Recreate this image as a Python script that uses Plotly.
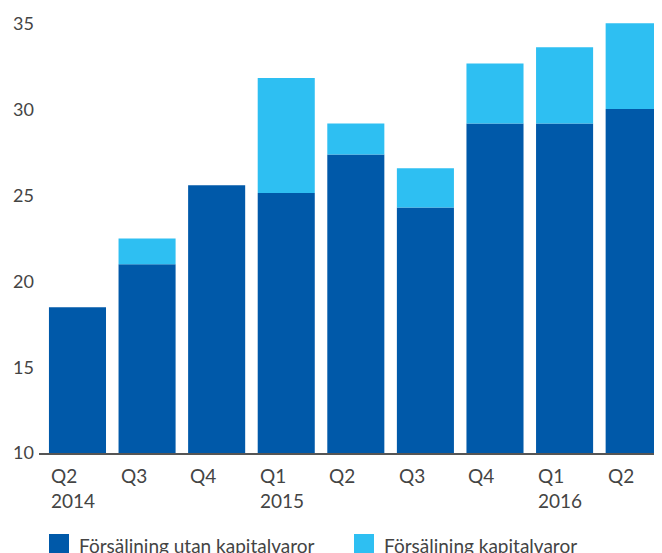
import plotly.graph_objects as go

quarters = ["Q2", "Q3", "Q4", "Q1", "Q2", "Q3", "Q4", "Q1", "Q2"]
years = ["2014", "", "", "2015", "", "", "", "2016", ""]
utan_kapital = [18.5, 21.0, 25.6, 25.15, 27.4, 24.3, 29.2, 29.2, 30.05]
kapital = [0.0, 1.5, 0.0, 6.7, 1.8, 2.3, 3.5, 4.45, 5.0]
series_names = ["Försäljning utan kapitalvaror", "Försäljning kapitalvaror"]
y_ticks = [10, 15, 20, 25, 30, 35]

dark = "#0059A9"
light = "#2EBFF2"
txt = "#444444"
font_family = "Lato, 'Open Sans', sans-serif"
fs = 19

x_idx = list(range(len(quarters)))

fig = go.Figure()
fig.add_trace(go.Bar(x=x_idx, y=utan_kapital, marker=dict(color=dark, line=dict(width=0)),
                     name=series_names[0], showlegend=False))
fig.add_trace(go.Bar(x=x_idx, y=kapital, marker=dict(color=light, line=dict(width=0)),
                     name=series_names[1], base=utan_kapital, showlegend=False))

# page offset of the figure (browser body margin)
OX, OY = 8, 8
FW, FH = 662 - OX, 553 - OY
# plot area in reference pixels: left 39, right 662, top 15, bottom 453
PL, PR, PT, PB = 39, 662, 15, 453
L, T = PL - OX, PT - OY
R = FW - (PR - OX)
B = FH - (PB - OY)
W = PR - PL
H = PB - PT

def py(ref_y):
    return (PB - ref_y) / H

def px(ref_x):
    return (ref_x - PL) / W

annotations = []
for i, (q, yr) in enumerate(zip(quarters, years)):
    text = q + ("<br>" + yr if yr else "")
    annotations.append(dict(x=i - 0.41, xref="x", y=py(462), yref="paper",
                            text=text, showarrow=False, xanchor="left", yanchor="top",
                            align="left", font=dict(family=font_family, size=fs, color=txt)))

shapes = []
legend_pos = [(49, 77), (354, 382)]
for (sq_x, tx_x), name, col in zip(legend_pos, series_names, [dark, light]):
    shapes.append(dict(type="rect", xref="paper", yref="paper",
                       x0=px(sq_x), x1=px(sq_x + 20),
                       y0=py(534), y1=py(556),
                       fillcolor=col, line=dict(width=0)))
    annotations.append(dict(x=px(tx_x), xref="paper", y=py(545), yref="paper",
                            text=name, showarrow=False, xanchor="left", yanchor="middle",
                            font=dict(family=font_family, size=fs, color=txt)))

fig.update_layout(
    width=FW, height=FH,
    margin=dict(l=L, r=R, t=T, b=B, pad=0, autoexpand=False),
    paper_bgcolor="white", plot_bgcolor="white",
    barmode="overlay", bargap=0.18,
    font=dict(family=font_family, size=fs, color=txt),
    xaxis=dict(range=[-0.553, 8.40], showticklabels=False, showgrid=False, zeroline=False,
               showline=True, linecolor="#555555", linewidth=1.5, ticks="", automargin=False),
    yaxis=dict(range=[10, 10 + H / 17.16], tickvals=y_ticks, ticktext=[str(v) for v in y_ticks],
               showgrid=False, zeroline=False, showline=False, ticks="", automargin=False,
               ticklabelstandoff=4,
               tickfont=dict(family=font_family, size=18, color=txt)),
    annotations=annotations, shapes=shapes,
)

fig.write_html("out.html")
